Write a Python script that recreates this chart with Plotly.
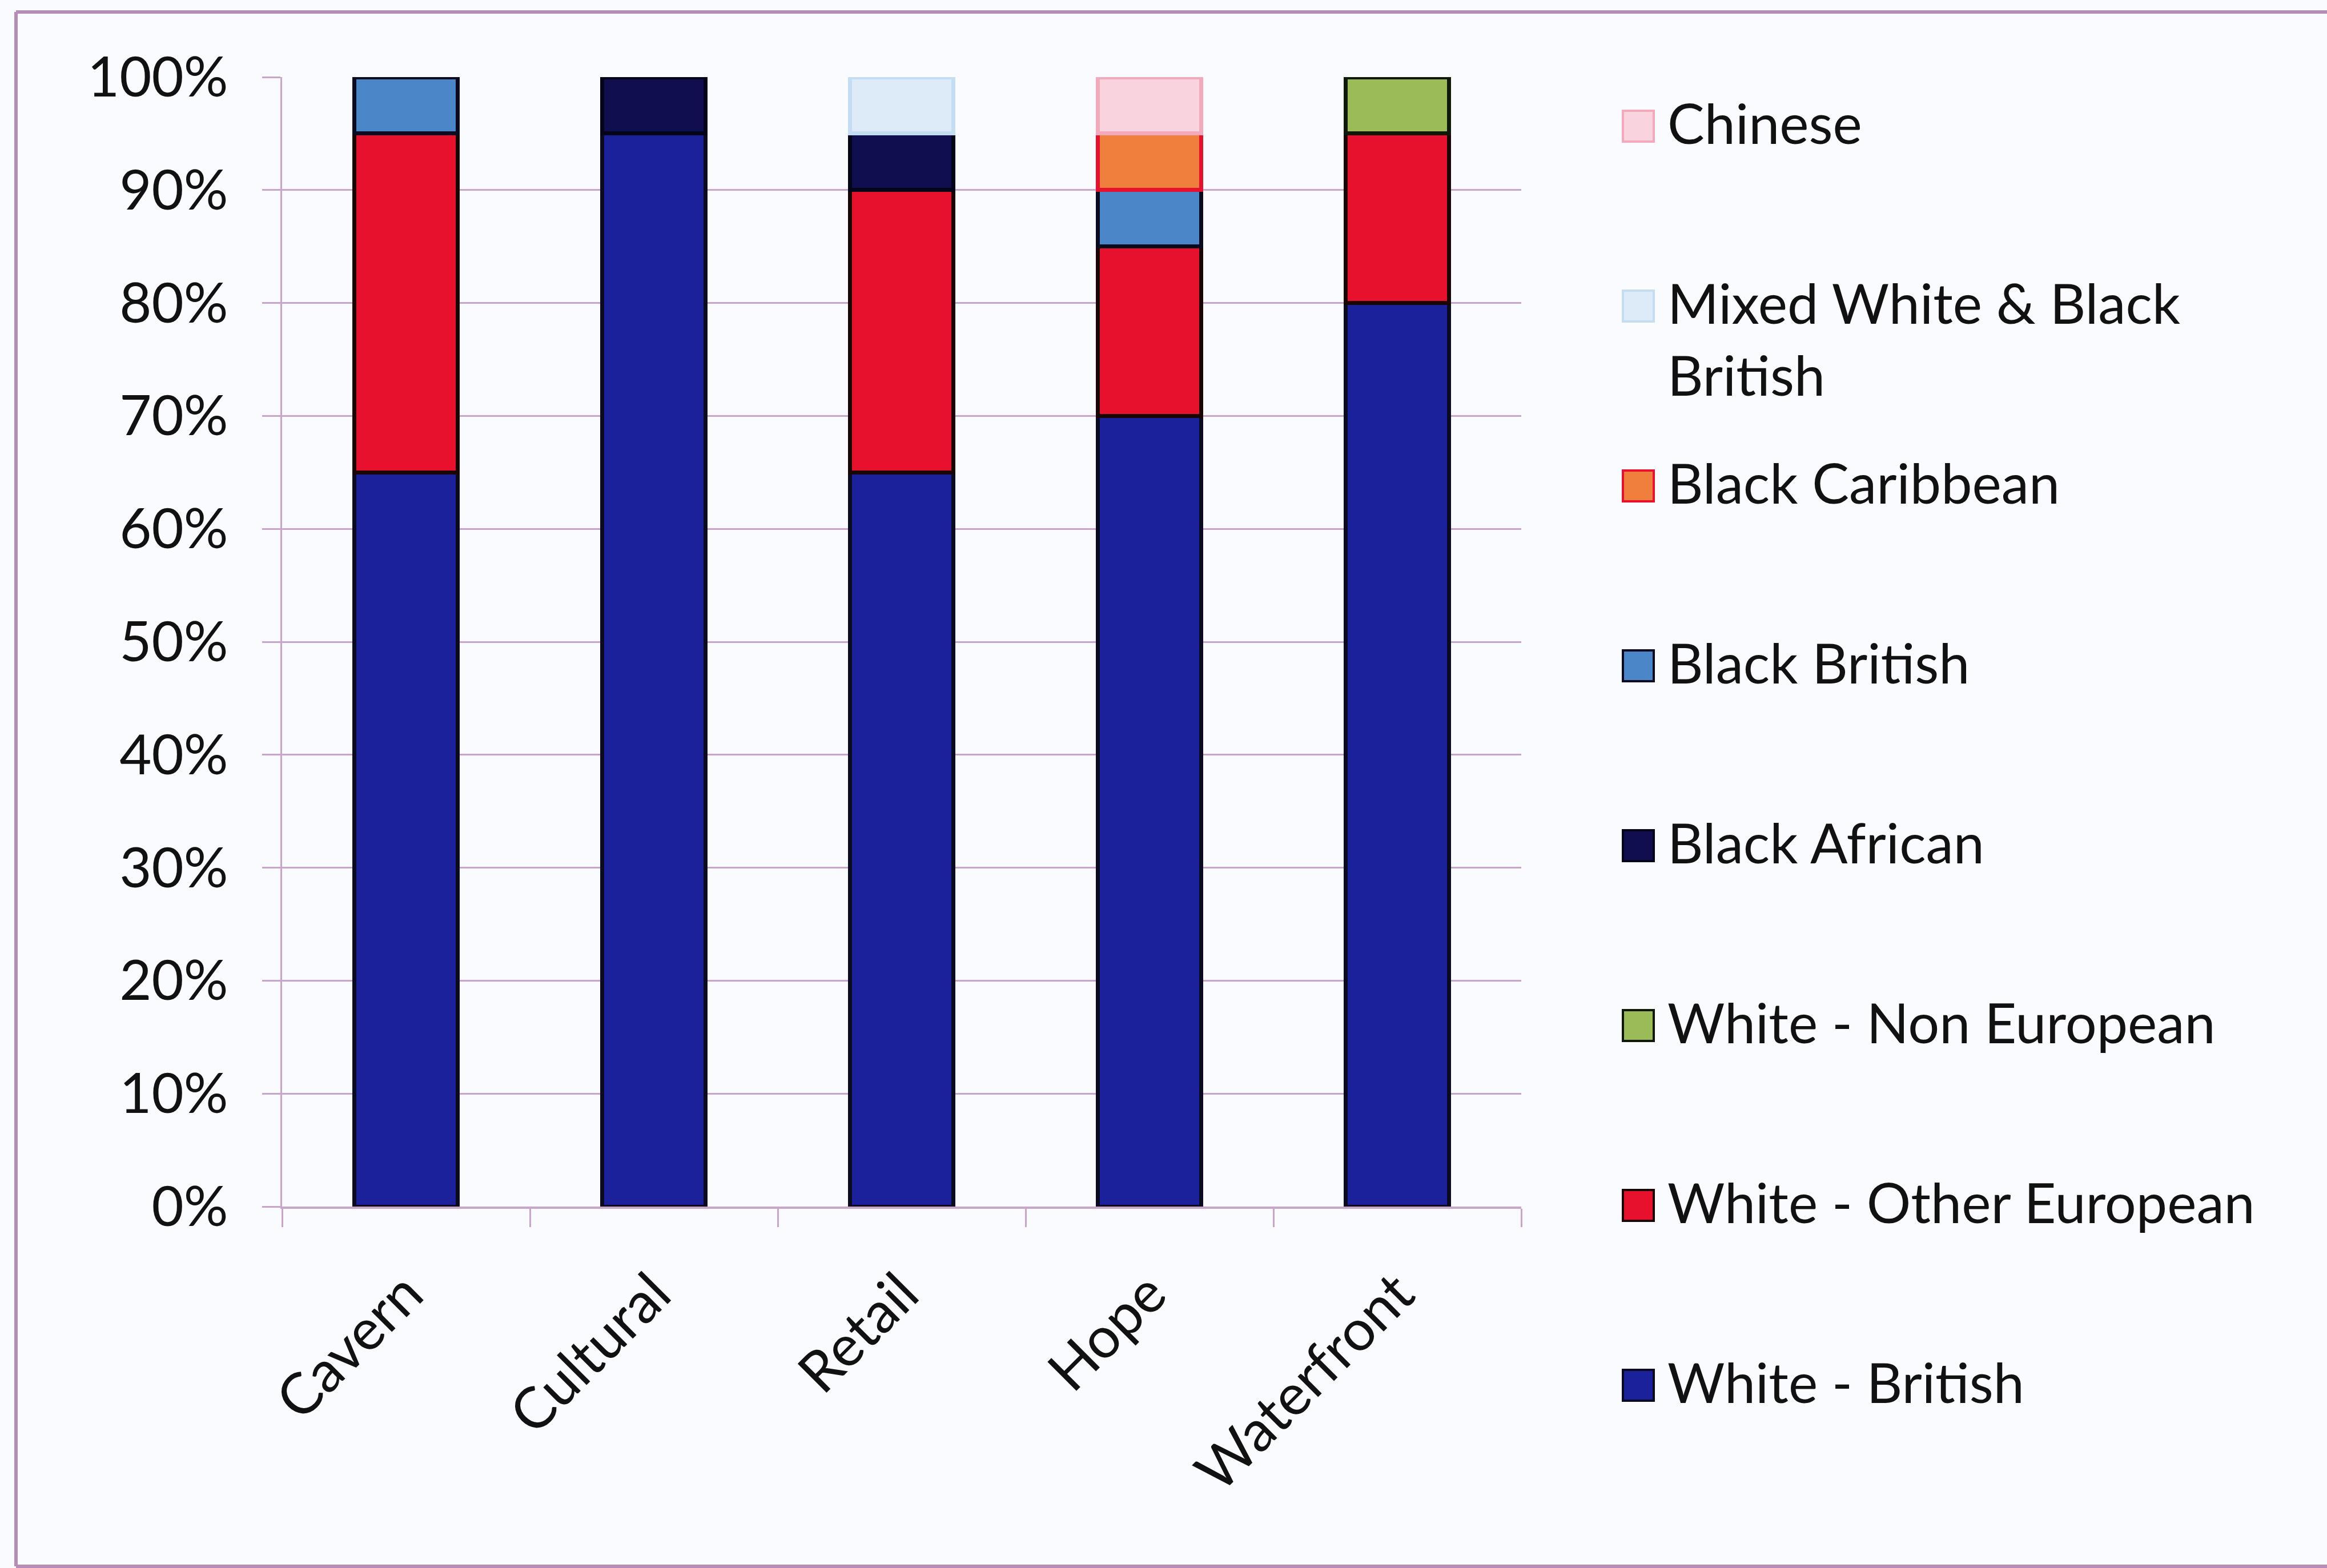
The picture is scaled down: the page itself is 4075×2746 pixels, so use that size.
import plotly.graph_objects as go

# ---------------- data ----------------
categories = ["Cavern", "Cultural", "Retail", "Hope", "Waterfront"]

white_british = [65, 95, 65, 70, 80]
white_other_european = [30, 0, 25, 15, 15]
white_non_european = [0, 0, 0, 0, 5]
black_african = [0, 5, 5, 0, 0]
black_british = [5, 0, 0, 5, 0]
black_caribbean = [0, 0, 0, 5, 0]
mixed_white_black_british = [0, 0, 5, 0, 0]
chinese = [0, 0, 0, 5, 0]

series_names = [
    "White - British",
    "White - Other European",
    "White - Non European",
    "Black African",
    "Black British",
    "Black Caribbean",
    "Mixed White & Black<br>British",
    "Chinese",
]
series_values = [
    white_british,
    white_other_european,
    white_non_european,
    black_african,
    black_british,
    black_caribbean,
    mixed_white_black_british,
    chinese,
]
fill_colors = ["#1B219B", "#E8112D", "#9BBB59", "#0F0E4E",
               "#4A86C8", "#F07E3C", "#DDEAF8", "#F9D3DE"]
line_colors = ["#0A0A20", "#1A0505", "#101808", "#05051A",
               "#0A0A20", "#E8112D", "#C5DDF2", "#F3A9BB"]

y_ticks = list(range(0, 101, 10))
y_tick_labels = [f"{v}%" for v in y_ticks]

# ---------------- layout geometry ----------------
W, H = 4075, 2746
ML, MR, MT, MB = 494, 1411, 135, 633
PW, PH = W - ML - MR, H - MT - MB

def px_x(p):
    return (p - ML) / PW

def px_y(p):
    return (H - MB - p) / PH

FONT = "Lato, 'Open Sans', sans-serif"
TXT = "#111111"
MAUVE = "#C9A5CB"
FRAME = "#B58DB8"

fig = go.Figure()
for name, vals, fc, lc in zip(series_names, series_values, fill_colors, line_colors):
    fig.add_trace(go.Bar(
        x=categories,
        y=[v if v else None for v in vals],
        name=name.replace("<br>", " "),
        marker=dict(color=fc, line=dict(color=lc, width=7)),
        showlegend=False,
    ))

# legend drawn as swatches + real text (ordered top to bottom like the original)
shapes = []
annotations = []
legend_top = 221
legend_step = 315
fs_leg = 97
sw = 54
for i, idx in enumerate(reversed(range(len(series_names)))):
    cy = legend_top + legend_step * i
    shapes.append(dict(
        type="rect", xref="paper", yref="paper",
        x0=px_x(2842), x1=px_x(2842 + sw),
        y0=px_y(cy + sw / 2), y1=px_y(cy - sw / 2),
        fillcolor=fill_colors[idx],
        line=dict(color=line_colors[idx], width=4),
        layer="above",
    ))
    annotations.append(dict(
        text=series_names[idx], xref="paper", yref="paper",
        x=px_x(2918), y=px_y(cy - 0.65 * fs_leg - 4),
        xanchor="left", yanchor="top", align="left",
        showarrow=False,
        font=dict(family=FONT, size=fs_leg, color=TXT),
    ))

# outer chart frame: left, top and bottom edges (right edge lies outside the picture)
frame_lines = [
    (28, 21, 28, 2743),
    (28, 21, W, 21),
    (28, 2743, W, 2743),
]
for x0, y0, x1, y1 in frame_lines:
    shapes.append(dict(
        type="line", xref="paper", yref="paper",
        x0=px_x(x0), x1=px_x(x1), y0=px_y(y0), y1=px_y(y1),
        line=dict(color=FRAME, width=6), layer="below",
    ))

fig.update_layout(
    width=W, height=H, autosize=False,
    margin=dict(l=ML, r=MR, t=MT, b=MB, pad=0),
    barmode="stack",
    bargap=0.585,
    paper_bgcolor="#FAFBFE",
    plot_bgcolor="#FAFBFE",
    font=dict(family=FONT, size=96, color=TXT),
    shapes=shapes,
    annotations=annotations,
    showlegend=False,
)
fig.update_yaxes(
    range=[0, 100],
    tickvals=y_ticks, ticktext=y_tick_labels,
    showgrid=True, gridcolor=MAUVE, gridwidth=3,
    showline=True, linecolor=MAUVE, linewidth=3,
    ticks="outside", ticklen=32, tickwidth=3, tickcolor=MAUVE,
    ticklabelstandoff=40,
    tickfont=dict(family=FONT, size=97, color=TXT),
    zeroline=False,
)
fig.update_xaxes(
    showline=True, linecolor=MAUVE, linewidth=4,
    ticks="outside", ticklen=32, tickwidth=3, tickcolor=MAUVE,
    tickson="boundaries",
    tickangle=-45,
    ticklabelstandoff=50,
    tickfont=dict(family=FONT, size=100, color=TXT),
    showgrid=False,
)

fig.write_html("out.html")
